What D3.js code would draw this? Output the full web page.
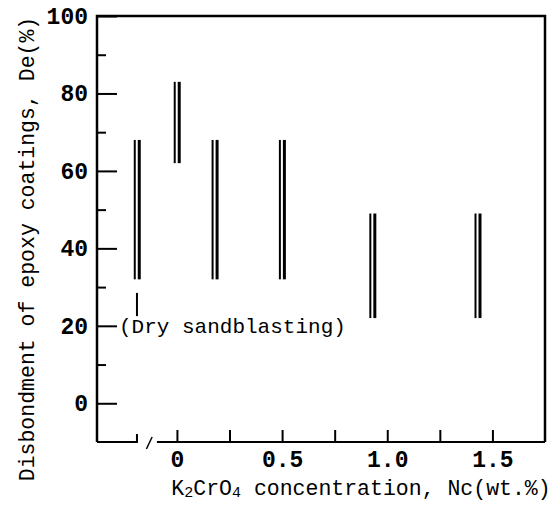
<!DOCTYPE html>
<html>
<head>
<meta charset="utf-8">
<script src="https://cdn.jsdelivr.net/npm/d3@7"></script>
<style>
  body { margin: 0; background: #fff; }
  text { fill: #000; }
</style>
</head>
<body>
<div id="chart"></div>
<script>
// K2CrO4 concentration (wt.%) and disbondment range (%)
const concentrations = [0, 0.18, 0.5, 0.93, 1.43];
const deLow = [62, 32, 32, 22, 22];
const deHigh = [83, 68, 68, 49, 49];

// dry sandblasting reference, drawn left of the axis break
const controlPos = -0.19;
const controlLow = 32;
const controlHigh = 68;
const controlLabel = "(Dry sandblasting)";

const xTicks = [0, 0.25, 0.5, 0.75, 1.0, 1.25, 1.5];
const xTickLabels = ["0", "", "0.5", "", "1.0", "", "1.5"];
const yMajor = [0, 20, 40, 60, 80, 100];
const yMinor = [10, 30, 50, 70, 90];

const W = 550, H = 509;
const margin = { top: 16, right: 5, bottom: 67, left: 97 };

const svg = d3.select('#chart').append('svg')
  .attr('width', W)
  .attr('height', H);

const x = d3.scaleLinear()
  .domain([-0.38, 1.75])
  .range([margin.left, W - margin.right]);

const y = d3.scaleLinear()
  .domain([-10, 100])
  .range([H - margin.bottom, margin.top]);

const mono = "'Liberation Mono', 'DejaVu Sans Mono', monospace";

// frame: left, top, right
svg.append('path')
  .attr('d', `M${x(-0.38)},${y(-10)}V${y(100)}H${x(1.75)}V${y(-10)}`)
  .attr('fill', 'none')
  .attr('stroke', '#000')
  .attr('stroke-width', 2.5);

// bottom axis: short segment, break mark, main segment
svg.append('path')
  .attr('d', `M${x(-0.38)},${y(-10)}H${x(controlPos)}V${y(-10) - 8}`)
  .attr('fill', 'none')
  .attr('stroke', '#000')
  .attr('stroke-width', 2);

svg.append('line')
  .attr('x1', x(-0.145)).attr('y1', y(-10) + 7)
  .attr('x2', x(-0.118)).attr('y2', y(-10) - 5)
  .attr('stroke', '#000')
  .attr('stroke-width', 1.5);

svg.append('line')
  .attr('x1', x(-0.095)).attr('x2', x(1.75))
  .attr('y1', y(-10)).attr('y2', y(-10))
  .attr('stroke', '#000')
  .attr('stroke-width', 2);

const xAxis = svg.append('g')
  .attr('transform', `translate(0,${y(-10)})`)
  .call(d3.axisBottom(x)
    .tickValues(xTicks)
    .tickSizeInner(-12)
    .tickSizeOuter(0)
    .tickPadding(9)
    .tickFormat((d, i) => xTickLabels[i]));
xAxis.select('.domain').remove();
xAxis.selectAll('line').attr('stroke', '#000').attr('stroke-width', 2);
xAxis.selectAll('text')
  .style('font-family', mono)
  .style('font-weight', 'bold')
  .style('font-size', '23px');

// y axis, ticks pointing inward
const yAxis = svg.append('g')
  .attr('transform', `translate(${margin.left},0)`)
  .call(d3.axisLeft(y)
    .tickValues(yMajor)
    .tickSizeInner(-20)
    .tickSizeOuter(0)
    .tickPadding(9));
yAxis.select('.domain').remove();
yAxis.selectAll('line').attr('stroke', '#000').attr('stroke-width', 2);
yAxis.selectAll('text')
  .style('font-family', mono)
  .style('font-weight', 'bold')
  .style('font-size', '23px');

const yMinorAxis = svg.append('g')
  .attr('transform', `translate(${margin.left},0)`)
  .call(d3.axisLeft(y)
    .tickValues(yMinor)
    .tickSizeInner(-9)
    .tickSizeOuter(0)
    .tickFormat(''));
yMinorAxis.select('.domain').remove();
yMinorAxis.selectAll('line').attr('stroke', '#000').attr('stroke-width', 2);

// double-line range bars
const bars = concentrations.map((c, i) => ({ pos: c, lo: deLow[i], hi: deHigh[i] }));
bars.unshift({ pos: controlPos, lo: controlLow, hi: controlHigh });

const g = svg.append('g');
[[-2.2, 2], [2.3, 3]].forEach(([off, sw]) => {
  g.selectAll(null)
    .data(bars)
    .enter()
    .append('line')
    .attr('x1', d => x(d.pos) + off)
    .attr('x2', d => x(d.pos) + off)
    .attr('y1', d => y(d.hi))
    .attr('y2', d => y(d.lo))
    .attr('stroke', '#000')
    .attr('stroke-width', sw);
});

// pointer from label to the sandblasting bar
svg.append('line')
  .attr('x1', x(controlPos)).attr('x2', x(controlPos))
  .attr('y1', y(28.5)).attr('y2', y(22.5))
  .attr('stroke', '#000')
  .attr('stroke-width', 2);

svg.append('text')
  .attr('x', margin.left + 22)
  .attr('y', y(20))
  .attr('dy', '0.35em')
  .style('font-family', mono)
  .style('font-size', '21px')
  .text(controlLabel);

// axis titles
const xTitle = svg.append('text')
  .attr('x', 361)
  .attr('y', 495)
  .attr('text-anchor', 'middle')
  .style('font-family', mono)
  .style('font-size', '21.5px');
xTitle.append('tspan').text('K');
xTitle.append('tspan').attr('font-size', '15px').attr('dy', 2).text('2');
xTitle.append('tspan').attr('dy', -2).text('CrO');
xTitle.append('tspan').attr('font-size', '15px').attr('dy', 2).text('4');
xTitle.append('tspan').attr('dy', -2).text(' concentration, Nc(wt.%)');

svg.append('text')
  .attr('transform', `translate(34,${249}) rotate(-90)`)
  .attr('text-anchor', 'middle')
  .style('font-family', mono)
  .style('font-size', '21.5px')
  .text('Disbondment of epoxy coatings, De(%)');
</script>
</body>
</html>
